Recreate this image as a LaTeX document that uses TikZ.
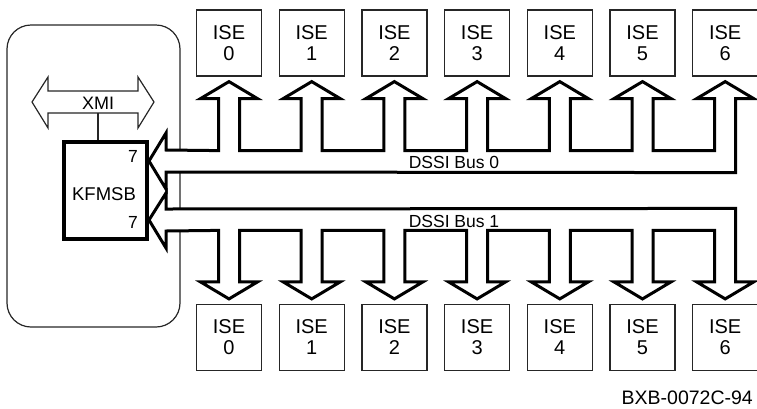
\documentclass[tikz,border=0pt]{standalone}
\usepackage{fontspec}
\setmainfont{Liberation Sans}
\usetikzlibrary{calc}
\begin{document}
\begin{tikzpicture}[x=1pt,y=-1pt,
  ise/.style={draw=black!85, line width=1.2pt, minimum width=65pt, minimum height=66pt,
    inner sep=0pt, align=center, font=\fontsize{20}{21}\selectfont},
  bus/.style={draw=black, line width=3pt, miter limit=10, fill=white},
  thin/.style={draw=black!85, line width=1.2pt},
  buslbl/.style={inner sep=0pt, font=\fontsize{17.5}{18}\selectfont},
  numlbl/.style={inner sep=0pt, font=\fontsize{17.5}{18}\selectfont}]
\useasboundingbox (0,0) rectangle (757,408);

% system enclosure
\node[thin, draw, rounded corners=24pt, minimum width=173pt, minimum height=302pt, inner sep=0pt] (sys) at (93.5,176) {};

% ISE boxes
\foreach \k [evaluate=\k as \cx using 229+82.7*\k] in {0,...,6}{
  \node[ise] (t\k) at (\cx,43) {ISE\\\k};
  \node[ise] (b\k) at (\cx,337.5) {ISE\\\k};
}

% KFMSB
\node[draw=black, line width=4pt, minimum width=83pt, minimum height=97pt, inner sep=0pt] (kf) at (105.5,190.5) {};
\node[inner sep=0pt, font=\fontsize{18.5}{20}\selectfont] (kft) at (104,194) {KFMSB};
\node[numlbl] (p0) at (133,156) {7};
\node[numlbl] (p1) at (133,222) {7};

% XMI double arrow
\draw[thin, fill=white] (32,102) -- (48,77) -- (48,91) -- (138,91) -- (138,77) -- (154,102)
  -- (138,128) -- (138,113) -- (48,113) -- (48,128) -- cycle;
\node[inner sep=0pt, font=\fontsize{18}{20}\selectfont] (xmi) at (98,103.5) {XMI};
\coordinate (xmib) at (98,113);
\draw[thin] (xmib) -- (xmib |- kf.north);

% DSSI bus 0 (to top ISEs)
\coordinate (tip0) at (149,161);
\draw[bus] (tip0) -- ++(17,-28) -- ++(0,17)
  \foreach \k in {0,...,6}{
    -- ($(t\k.south)+(-10.5,74)$) -- ($(t\k.south)+(-10.5,22)$) -- ($(t\k.south)+(-28.5,22)$)
    -- ($(t\k.south)+(0,5)$) -- ($(t\k.south)+(28.5,22)$) -- ($(t\k.south)+(10.5,22)$)
    -- ($(t\k.south)+(10.5,74)$)}
  -- ($(t6.south)+(10.5,96)$) -- (166,172) -- (166,189) -- cycle;

% DSSI bus 1 (to bottom ISEs)
\coordinate (tip1) at (149,220);
\draw[bus] (tip1) -- ++(17,-27) -- ++(0,16) -- ($(b6.north)+(10.5,-95.5)$)
  \foreach \k in {6,...,0}{
    -- ($(b\k.north)+(10.5,-73.5)$) -- ($(b\k.north)+(10.5,-22)$) -- ($(b\k.north)+(28.5,-22)$)
    -- ($(b\k.north)+(0,-5)$) -- ($(b\k.north)+(-28.5,-22)$) -- ($(b\k.north)+(-10.5,-22)$)
    -- ($(b\k.north)+(-10.5,-73.5)$)}
  -- (166,231) -- (166,248) -- cycle;

\node[buslbl] (l0) at (454,162) {DSSI Bus 0};
\node[buslbl] (l1) at (454,221) {DSSI Bus 1};

\node[inner sep=0pt, anchor=east, font=\fontsize{19.5}{20}\selectfont] (ref) at (753,398) {BXB-0072C-94};
\end{tikzpicture}
\end{document}
